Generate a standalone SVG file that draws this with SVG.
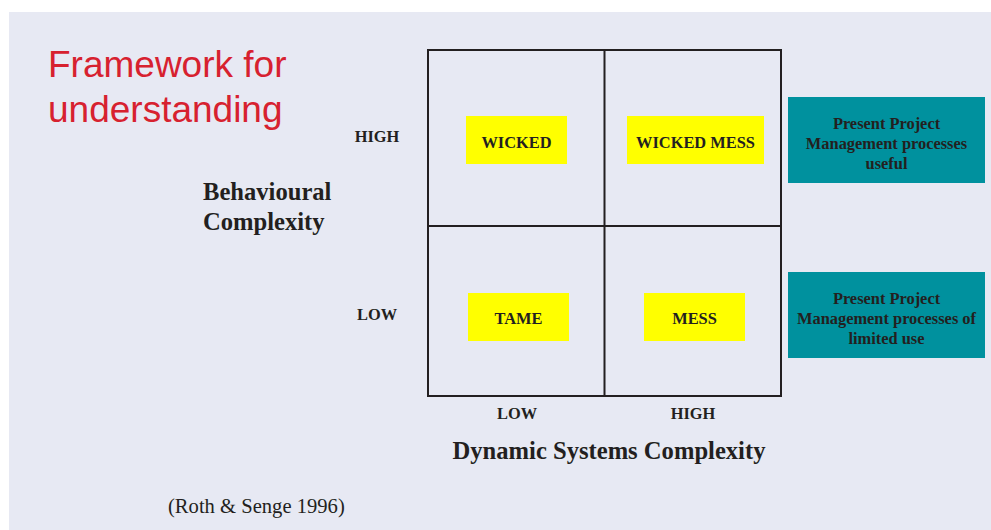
<svg xmlns="http://www.w3.org/2000/svg" width="991" height="530" viewBox="0 0 991 530">
  <style>
    .lbl { font-family: "Liberation Serif", "Times New Roman", serif; font-weight: bold; fill: #231f20; }
    .sm { font-size: 16.4px; text-anchor: middle; }
    .axis { font-size: 24.6px; }
    .cell { fill: #ffff00; }
    .note { fill: #00919e; }
    .grid { fill: none; stroke: #231f20; stroke-width: 2; }
  </style>

  <!-- page -->
  <rect x="0" y="0" width="991" height="530" fill="#ffffff"/>
  <rect x="9" y="12" width="982" height="518" fill="#e7e9f3"/>

  <!-- heading -->
  <g id="title" font-family="'Liberation Sans', Arial, sans-serif" font-size="37" fill="#d7212f">
    <text x="48" y="77">Framework for</text>
    <text x="48" y="122">understanding</text>
  </g>

  <!-- vertical axis -->
  <g id="axis-y">
    <text class="lbl axis" x="203" y="200">Behavioural</text>
    <text class="lbl axis" x="203" y="230">Complexity</text>
    <text class="lbl sm" x="377" y="142">HIGH</text>
    <text class="lbl sm" x="377" y="320">LOW</text>
  </g>

  <!-- horizontal axis -->
  <g id="axis-x">
    <text class="lbl sm" x="517" y="419">LOW</text>
    <text class="lbl sm" x="693" y="419">HIGH</text>
    <text class="lbl axis" x="609" y="459" text-anchor="middle">Dynamic Systems Complexity</text>
  </g>

  <!-- 2x2 grid -->
  <g id="grid" class="grid">
    <rect x="428" y="50" width="353" height="346"/>
    <line x1="604.5" y1="50" x2="604.5" y2="396"/>
    <line x1="428" y1="226" x2="781" y2="226"/>
  </g>

  <g id="wicked">
    <rect class="cell" x="466" y="116" width="101" height="48"/>
    <text class="lbl sm" x="516.5" y="148">WICKED</text>
  </g>
  <g id="wicked-mess">
    <rect class="cell" x="627" y="116" width="137" height="48"/>
    <text class="lbl sm" x="695.5" y="148">WICKED MESS</text>
  </g>
  <g id="tame">
    <rect class="cell" x="468" y="293" width="101" height="48"/>
    <text class="lbl sm" x="518.5" y="324">TAME</text>
  </g>
  <g id="mess">
    <rect class="cell" x="644" y="293" width="101" height="48"/>
    <text class="lbl sm" x="694.5" y="324">MESS</text>
  </g>

  <!-- notes on the right -->
  <g id="note-useful">
    <rect class="note" x="788" y="97" width="197" height="86"/>
    <text class="lbl sm" x="886.5" y="129">Present Project</text>
    <text class="lbl sm" x="886.5" y="149">Management processes</text>
    <text class="lbl sm" x="886.5" y="169">useful</text>
  </g>
  <g id="note-limited">
    <rect class="note" x="788" y="272" width="197" height="86"/>
    <text class="lbl sm" x="886.5" y="304">Present Project</text>
    <text class="lbl sm" x="886.5" y="324">Management processes of</text>
    <text class="lbl sm" x="886.5" y="344">limited use</text>
  </g>

  <!-- source -->
  <text id="source" x="168" y="513" font-family="'Liberation Serif', 'Times New Roman', serif" font-size="20.6" fill="#231f20">(Roth &amp; Senge 1996)</text>
</svg>
